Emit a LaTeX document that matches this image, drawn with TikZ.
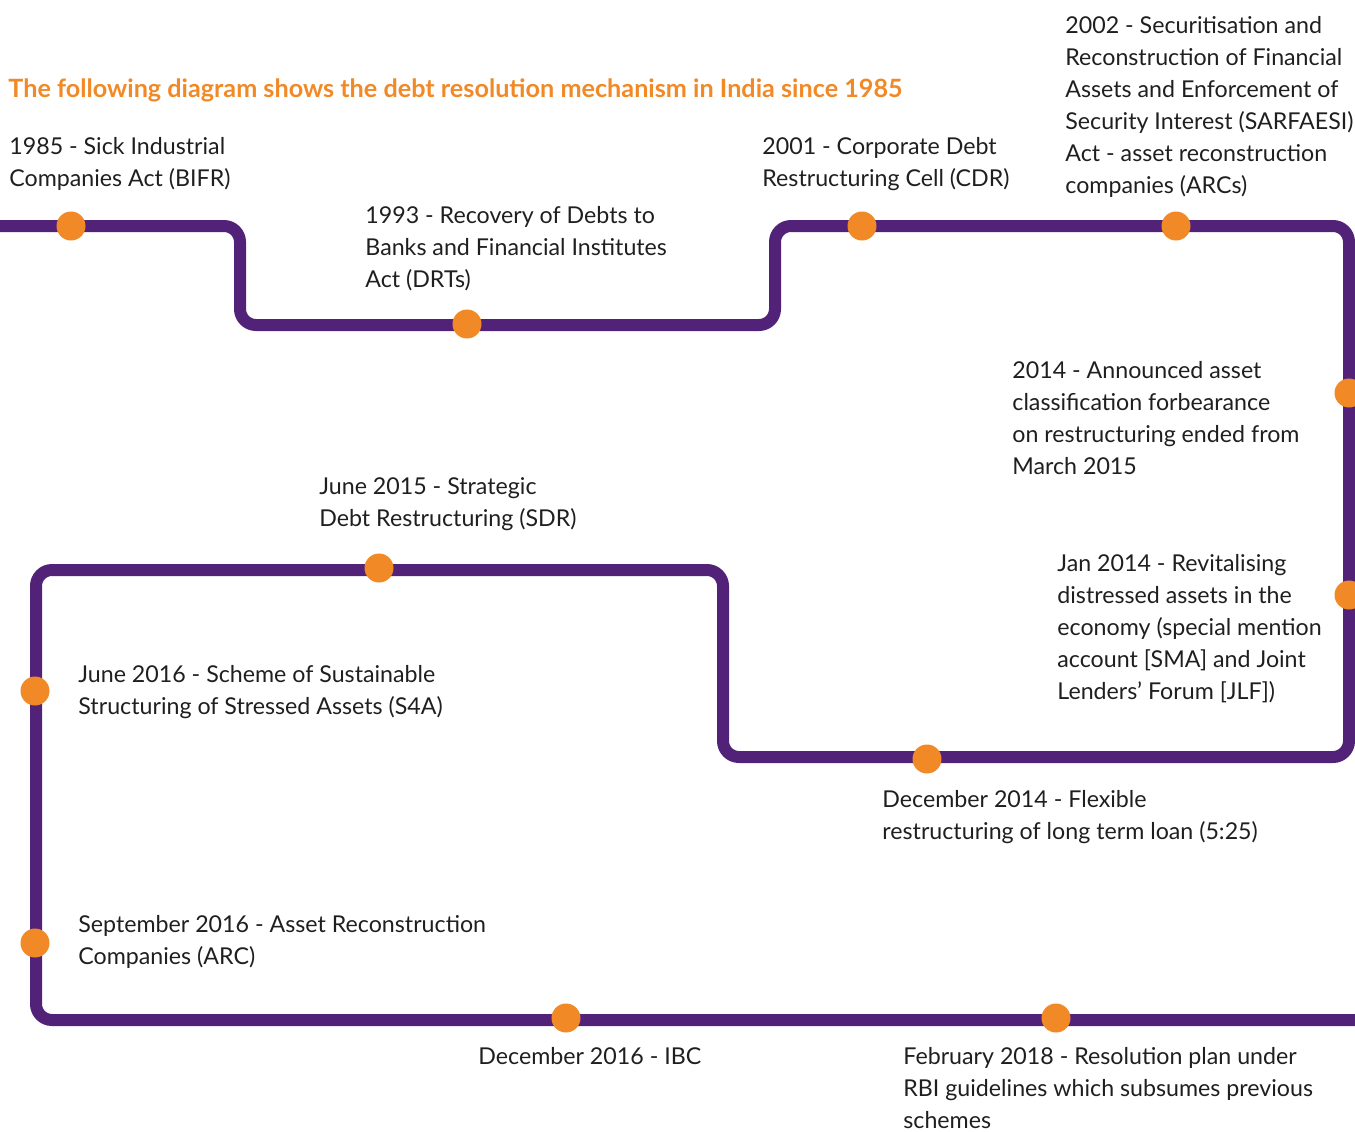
\documentclass[tikz,border=0pt]{standalone}
\usepackage{fontspec}
\setmainfont{Lato}
\definecolor{linepurple}{RGB}{82,33,120}
\definecolor{dotorange}{RGB}{241,137,38}
\tikzset{dot/.style={circle, fill=dotorange, inner sep=0pt, minimum size=14.5pt}}
\tikzset{event/.style={anchor=north west, inner sep=0pt, align=left, text=black!88,
      font=\fontsize{11.6}{16}\selectfont}}
\tikzset{headline/.style={anchor=west, inner sep=0pt, text=dotorange,
      font=\fontsize{12.6}{14}\selectfont\bfseries}}

\begin{document}
\begin{tikzpicture}[x=0.5pt,y=-0.5pt]
    \useasboundingbox (0,0) rectangle (1355,1131);
    \draw[linepurple, line width=6pt, rounded corners=8pt] (0,226) -- (240,226) -- (240,325) -- (775,325)
      -- (775,226) -- (1349,226) -- (1349,757) -- (723,757) -- (723,570) -- (36,570) -- (36,1020) -- (1355,1020);
    \node[dot] (d1985) at (71,226) {};
    \node[dot] (d1993) at (467,324) {};
    \node[dot] (d2001) at (862,226) {};
    \node[dot] (d2002) at (1176,226) {};
    \node[dot] (d2014) at (1349,393) {};
    \node[dot] (djan14) at (1349,595) {};
    \node[dot] (ddec14) at (927,759) {};
    \node[dot] (djun15) at (379,568) {};
    \node[dot] (djun16) at (35,691) {};
    \node[dot] (dsep16) at (35,943) {};
    \node[dot] (ddec16) at (566,1018) {};
    \node[dot] (dfeb18) at (1056,1018) {};
    \node[headline] (title) at (8,90) {The following diagram shows the debt resolution mechanism in India since 1985};
    \node[event] (t1985) at (9,137) {1985 - Sick Industrial\\Companies Act (BIFR)};
    \node[event] (t1993) at (365,206) {1993 - Recovery of Debts to\\Banks and Financial Institutes\\Act (DRTs)};
    \node[event] (t2001) at (762,137) {2001 - Corporate Debt\\Restructuring Cell (CDR)};
    \node[event] (t2002) at (1065,16) {2002 - Securitisation and\\Reconstruction of Financial\\Assets and Enforcement of\\Security Interest (SARFAESI)\\Act - asset reconstruction\\companies (ARCs)};
    \node[event] (t2014) at (1012,361) {2014 - Announced asset\\classification forbearance\\on restructuring ended from\\March 2015};
    \node[event] (tjan14) at (1057,554) {Jan 2014 - Revitalising\\distressed assets in the\\economy (special mention\\account [SMA] and Joint\\Lenders’ Forum [JLF])};
    \node[event] (tjun15) at (319,477) {June 2015 - Strategic\\Debt Restructuring (SDR)};
    \node[event] (tjun16) at (78,665) {June 2016 - Scheme of Sustainable\\Structuring of Stressed Assets (S4A)};
    \node[event] (tdec14) at (882,790) {December 2014 - Flexible\\restructuring of long term loan (5:25)};
    \node[event] (tsep16) at (78,915) {September 2016 - Asset Reconstruction\\Companies (ARC)};
    \node[event] (tdec16) at (478,1047) {December 2016 - IBC};
    \node[event] (tfeb18) at (903,1047) {February 2018 - Resolution plan under\\RBI guidelines which subsumes previous\\schemes};
\end{tikzpicture}
\end{document}
